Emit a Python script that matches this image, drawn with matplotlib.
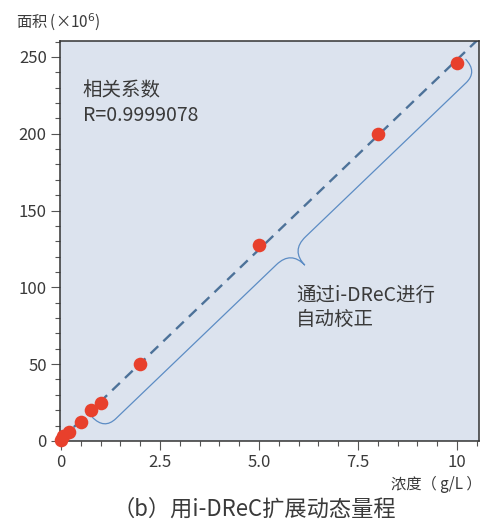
import numpy as np
import matplotlib
matplotlib.use('Agg')
import matplotlib.pyplot as plt
from matplotlib.path import Path
from matplotlib.patches import PathPatch
from matplotlib.ticker import MultipleLocator

plt.rcParams['font.family'] = ['Noto Sans CJK SC', 'DejaVu Sans']

# calibration data: concentration (g/L) vs peak area (x10^6)
conc = [0, 0.05, 0.2, 0.5, 0.75, 1, 2, 5, 8, 10]
area = [0.5, 3, 6, 12.5, 20, 24.5, 50, 127.5, 200, 246]
r_text = 'R=0.9999078'

TEXT = '#3a3a3a'
BG = '#dce3ee'
DOT = '#e8402c'
FIT = '#4d7299'
BRACE = '#5c8cc4'

fig = plt.figure(figsize=(4.83, 5.23), dpi=100)
ax = fig.add_axes([0.124, 0.157, 0.868, 0.765])
ax.set_facecolor(BG)

# linear fit through the points
k, b = np.polyfit(conc, area, 1)
xf = np.array([0, 10.7])
ax.plot(xf, k * xf + b, color=FIT, lw=1.7, dashes=[4.5, 3], zorder=2)
ax.plot(conc, area, 'o', color=DOT, ms=9.8, mec='none', zorder=3, clip_on=False)

ax.set_xlim(-0.03, 10.56)
ax.set_ylim(0, 260.5)
ax.xaxis.set_major_locator(MultipleLocator(2.5))
ax.xaxis.set_minor_locator(MultipleLocator(0.5))
ax.yaxis.set_major_locator(MultipleLocator(50))
ax.yaxis.set_minor_locator(MultipleLocator(10))
ax.set_xticks([0, 2.5, 5, 7.5, 10])
ax.set_xticklabels(['0', '2.5', '5.0', '7.5', '10'])
ax.tick_params(which='major', direction='out', length=6.5, width=0.8,
               color='#555555', labelcolor=TEXT, labelsize=12, pad=3)
ax.tick_params(which='minor', direction='out', length=3.6, width=0.8,
               color='#555555')
for s in ax.spines.values():
    s.set_color('#333333')
    s.set_linewidth(1.1)

# curly brace alongside the fit line (built in pixels, then mapped to data)
def brace(x0, x1, v0, vs, vt, r_end, r_mid):
    p0 = ax.transData.transform((x0, k * x0 + b))
    p1 = ax.transData.transform((x1, k * x1 + b))
    L = np.hypot(*(p1 - p0))
    d = (p1 - p0) / L
    n = np.array([d[1], -d[0]])
    m = L / 2
    uv = [(0, v0), (0, vs), (r_end, vs),
          (m - r_mid, vs), (m, vs), (m, vt),
          (m, vs), (m + r_mid, vs),
          (L - r_end, vs), (L, vs), (L, v0)]
    codes = [Path.MOVETO, Path.CURVE3, Path.CURVE3,
             Path.LINETO, Path.CURVE3, Path.CURVE3,
             Path.CURVE3, Path.CURVE3,
             Path.LINETO, Path.CURVE3, Path.CURVE3]
    pts = np.array([p0 + u * d + v * n for u, v in uv])
    pts = ax.transData.inverted().transform(pts)
    ax.add_patch(PathPatch(Path(pts, codes), fill=False, ec=BRACE,
                           lw=0.9, zorder=2, clip_on=False))

brace(0.69, 10.12, 5.5, 23, 43, 16, 20)

ax.text(0.055, 0.901, '相关系数\n' + r_text, transform=ax.transAxes,
        fontsize=14, color=TEXT, va='top', ha='left', linespacing=1.2)
ax.text(0.563, 0.391, '通过i-DReC进行\n自动校正', transform=ax.transAxes,
        fontsize=14, color=TEXT, va='top', ha='left', linespacing=1.2)

fig.text(16 / 483, 1 - 22 / 523, '面积 (×10$^6$)', fontsize=11, color=TEXT,
         va='center', ha='left')
fig.text(482 / 483, 1 - 484 / 523, '浓度（ g/L ）', fontsize=11, color=TEXT,
         va='center', ha='right')
fig.text(254 / 483, 1 - 509 / 523, '（b）用i-DReC扩展动态量程', fontsize=16,
         color=TEXT, va='center', ha='center')

fig.savefig('out.png', dpi=100)
